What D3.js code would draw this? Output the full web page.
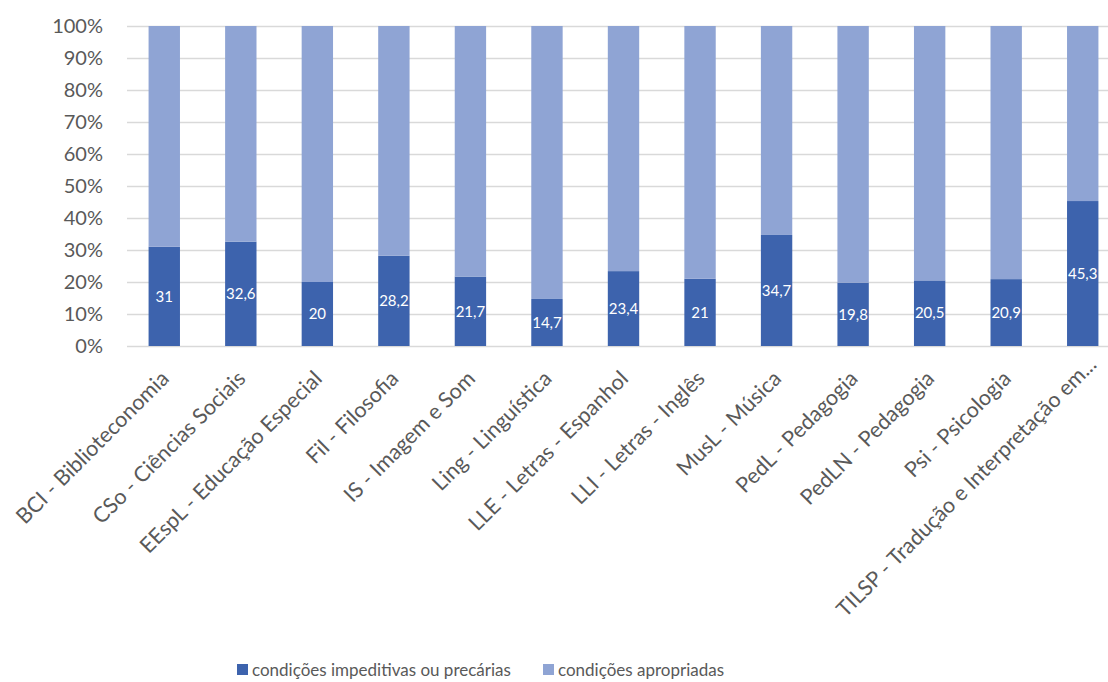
<!DOCTYPE html>
<html>
<head>
<meta charset="utf-8">
<script src="https://cdn.jsdelivr.net/npm/d3@7"></script>
<style>
  body { margin: 0; background: #fff; }
  svg { font-family: Lato, "Open Sans", sans-serif; }
</style>
</head>
<body>
<svg id="chart" width="1108" height="682"></svg>
<script>
var categories = [
  'BCI - Biblioteconomia',
  'CSo - Ciências Sociais',
  'EEspL - Educação Especial',
  'Fil - Filosofia',
  'IS - Imagem e Som',
  'Ling - Linguística',
  'LLE - Letras - Espanhol',
  'LLI - Letras - Inglês',
  'MusL - Música',
  'PedL - Pedagogia',
  'PedLN - Pedagogia',
  'Psi - Psicologia',
  'TILSP - Tradução e Interpretação em...'
];
var precarias = [31, 32.6, 20, 28.2, 21.7, 14.7, 23.4, 21, 34.7, 19.8, 20.5, 20.9, 45.3];
var apropriadas = [69, 67.4, 80, 71.8, 78.3, 85.3, 76.6, 79, 65.3, 80.2, 79.5, 79.1, 54.7];
var seriesNames = ['condições impeditivas ou precárias', 'condições apropriadas'];
var yTicks = [0, 10, 20, 30, 40, 50, 60, 70, 80, 90, 100];

var colors = ['#3d63ad', '#8fa4d4'];
var textColor = '#595959';
var svg = d3.select('#chart');

var x = d3.scaleBand().domain(categories).range([126, 1121]).paddingInner(0.59).paddingOuter(0.295);
var y = d3.scaleLinear().domain([0, 100]).range([346, 26]);

// gridlines
svg.append('g').selectAll('line.grid').data(yTicks).enter().append('line')
    .attr('class', 'grid')
    .attr('x1', 127)
    .attr('x2', 1108)
    .attr('y1', function (d) { return y(d) + 0.5; })
    .attr('y2', function (d) { return y(d) + 0.5; })
    .attr('stroke', '#d9d9d9')
    .attr('stroke-width', 1.3);

// y axis labels
var yAxis = d3.axisLeft(y).tickValues(yTicks).tickSize(0).tickPadding(0)
    .tickFormat(function (d) { return d + '%'; });
var yg = svg.append('g').attr('transform', 'translate(103,0)').call(yAxis)
    .attr('font-family', null).attr('font-size', null);
yg.select('.domain').remove();
yg.selectAll('text')
    .attr('fill', textColor)
    .style('font-size', '20px');

var rows = categories.map(function (c, i) {
  return { cat: c, a: precarias[i], b: apropriadas[i] };
});
var stacked = d3.stack().keys(['a', 'b'])(rows);

svg.append('g').selectAll('g.series').data(stacked).enter().append('g')
    .attr('class', 'series')
    .attr('fill', function (d, i) { return colors[i]; })
    .selectAll('rect').data(function (d) { return d; }).enter().append('rect')
    .attr('x', function (d) { return x(d.data.cat); })
    .attr('width', x.bandwidth())
    .attr('y', function (d) { return y(d[1]); })
    .attr('height', function (d) { return y(d[0]) - y(d[1]); });

// data labels for bottom series
svg.append('g').selectAll('text.lbl').data(rows).enter().append('text')
    .attr('class', 'lbl')
    .attr('x', function (d) { return x(d.cat) + x.bandwidth() / 2; })
    .attr('y', function (d) { return (y(0) + y(d.a)) / 2; })
    .attr('dy', '0.35em')
    .attr('text-anchor', 'middle')
    .attr('fill', '#ffffff')
    .style('font-size', '15px')
    .text(function (d) { return String(d.a).replace('.', ','); });

// x axis labels, rotated
var xAxis = d3.axisBottom(x).tickSize(0).tickPadding(0);
var xg = svg.append('g').attr('transform', 'translate(0,346)').call(xAxis)
    .attr('font-family', null).attr('font-size', null);
xg.select('.domain').remove();
xg.selectAll('text')
    .attr('fill', textColor)
    .style('font-size', '21.5px')
    .attr('text-anchor', 'end')
    .attr('dy', null)
    .attr('y', 0)
    .attr('transform', function (d, i) {
      // the truncated last label sits a bit higher, like in the original
      if (i === categories.length - 1) return 'translate(15,20) rotate(-45)';
      return 'translate(6,34) rotate(-45)';
    });

// legend
var legendX = [237, 543];
var legend = svg.append('g').selectAll('g.legend').data(seriesNames).enter().append('g')
    .attr('class', 'legend')
    .attr('transform', function (d, i) { return 'translate(' + legendX[i] + ',670)'; });
legend.append('rect')
    .attr('x', 0).attr('y', -6).attr('width', 11).attr('height', 11)
    .attr('fill', function (d, i) { return colors[i]; });
legend.append('text')
    .attr('x', 15).attr('y', 0).attr('dy', '0.35em')
    .attr('fill', textColor)
    .style('font-size', '17px')
    .text(function (d) { return d; });
</script>
</body>
</html>
